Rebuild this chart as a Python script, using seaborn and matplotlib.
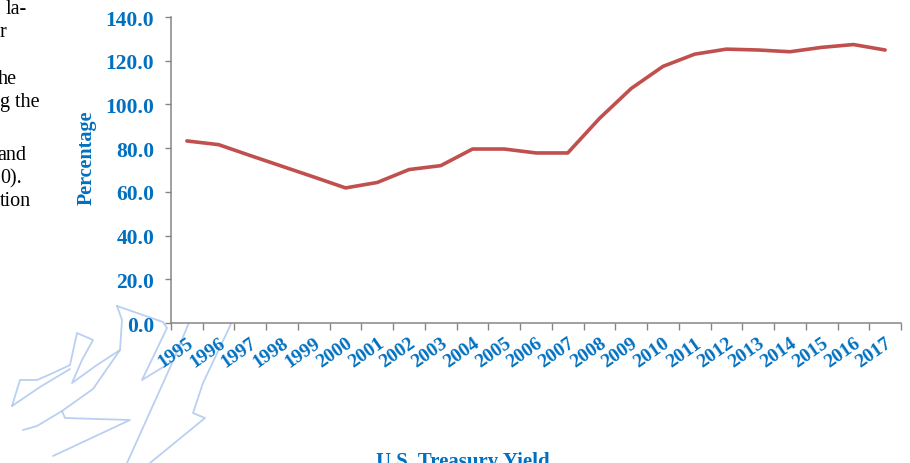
import matplotlib
matplotlib.use("Agg")
import matplotlib.pyplot as plt
from matplotlib.lines import Line2D
from matplotlib.ticker import FixedLocator
import seaborn as sns
import pandas as pd

# ---- data ----
years = [str(y) for y in range(1995, 2018)]
values = [83.3, 81.6, 76.6, 71.7, 66.8, 61.8, 64.3, 70.2, 72.0, 79.6, 79.6,
          77.8, 77.8, 93.6, 107.3, 117.4, 123.0, 125.3, 124.9, 124.1, 126.1,
          127.4, 124.9]
y_ticks = [0, 20, 40, 60, 80, 100, 120, 140]
y_label = "Percentage"
x_title = "U.S. Treasury Yield"
side_text = ["la-", "r", "he", "g the", "and", "0).", "tion"]

df = pd.DataFrame({"Year": years, "Value": values})

sns.set_theme(style="white")
plt.rcParams["font.family"] = ["Liberation Serif", "DejaVu Serif"]

W, H = 910, 464
fig = plt.figure(figsize=(W / 100, H / 100), dpi=100)
ax = fig.add_axes([171 / W, 1 - 324 / H, (901 - 171) / W, (324 - 18) / H])

blue = "#0070C0"
grey = "#868686"

sns.lineplot(data=df, x="Year", y="Value", ax=ax, color="#C0504D",
             linewidth=2.6, sort=False)

n = len(years)
ax.set_xlim(-0.5, n - 0.5)
ax.set_ylim(0, 140)

# y axis
ax.set_yticks(y_ticks)
ax.set_yticklabels([f"{v:.1f}" for v in y_ticks], fontsize=15.5,
                   fontweight="bold", color=blue)
ax.tick_params(axis="y", which="major", direction="out", length=4, width=1,
               color=grey, pad=8, left=True)

# x axis: labels at category centres, tick marks at boundaries
ax.set_xticks(range(n))
ax.set_xticklabels(years, fontsize=14, fontweight="bold", color=blue,
                   rotation=35, ha="right", va="top", rotation_mode="anchor")
ax.tick_params(axis="x", which="major", length=0, pad=8)
ax.xaxis.set_minor_locator(FixedLocator([i - 0.5 for i in range(n + 1)]))
ax.tick_params(axis="x", which="minor", direction="out", length=5, width=1,
               color=grey, bottom=True)

for s in ["top", "right"]:
    ax.spines[s].set_visible(False)
for s in ["left", "bottom"]:
    ax.spines[s].set_color(grey)
    ax.spines[s].set_linewidth(1.1)

ax.set_xlabel("")
ax.set_ylabel(y_label, fontsize=14.5, fontweight="bold", color=blue)
ax.yaxis.set_label_coords((97 - 171) / 730, (324 - 158) / 306)
ax.grid(False)

# bottom title (cut off in the reference)
fig.text(463 / W, 1 - 452 / H, x_title, fontsize=15, fontweight="bold",
         color=blue, ha="center", va="top")

# side text fragments
baselines = [14, 37, 84, 107, 160, 183, 206]
xs = [6, 0, -2, 0, -3, 0, 0]
for t, yb, xx in zip(side_text, baselines, xs):
    fig.text(xx / W, 1 - yb / H, t, fontsize=14.5, color="black",
             ha="left", va="baseline")

# faint watermark outline
wm = [
    [(12, 407), (20, 381), (37, 381), (53, 374), (70, 366), (77, 334),
     (93, 341), (82, 361), (72, 384), (97, 366), (120, 351)],
    [(12, 407), (40, 388), (70, 370)],
    [(117, 307), (163, 323), (167, 329), (142, 381), (173, 362),
     (193, 314), (188, 297), (233, 319), (230, 327), (203, 384),
     (193, 414), (205, 419), (150, 464)],
    [(117, 307), (122, 321), (120, 351), (93, 390), (62, 412), (65, 419),
     (130, 421), (53, 457)],
    [(23, 431), (37, 427), (62, 412)],
    [(173, 362), (127, 464)],
]
for pts in wm:
    xs_ = [p[0] / W for p in pts]
    ys_ = [1 - p[1] / H for p in pts]
    fig.add_artist(Line2D(xs_, ys_, transform=fig.transFigure,
                          color="#a9c4ee", lw=1.3, alpha=0.8, zorder=0))

fig.savefig("out.png", dpi=100)
